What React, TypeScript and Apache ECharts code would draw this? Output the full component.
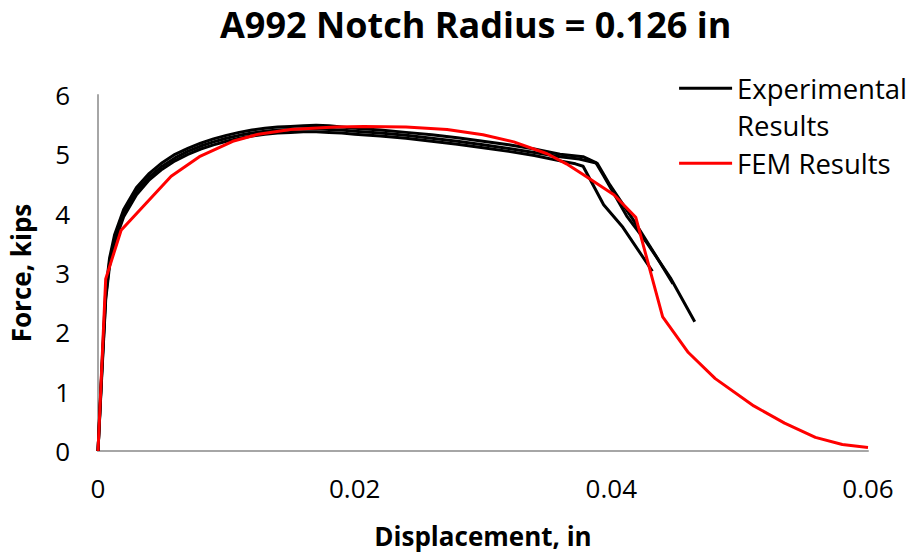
import React, { useEffect, useRef } from "react";
import * as echarts from "echarts";

const TITLE = "A992 Notch Radius = 0.126 in";
const X_NAME = "Displacement, in";
const Y_NAME = "Force, kips";
const EXP_NAME = "Experimental Results";
const FEM_NAME = "FEM Results";

// Experimental test curves [displacement (in), force (kips)]
const exp1: number[][] = [
  [0, 0], [0.0003, 1.4], [0.0006, 2.7], [0.0009, 3.25], [0.0013, 3.65], [0.002, 4.07],
  [0.003, 4.44], [0.004, 4.68], [0.005, 4.86], [0.006, 5.0], [0.007, 5.1], [0.008, 5.19],
  [0.009, 5.26], [0.01, 5.32], [0.011, 5.37], [0.012, 5.41], [0.013, 5.44], [0.014, 5.46],
  [0.015, 5.47], [0.016, 5.48], [0.017, 5.49], [0.018, 5.48], [0.019, 5.46], [0.02, 5.44],
  [0.022, 5.41], [0.024, 5.37], [0.026, 5.33], [0.028, 5.28], [0.03, 5.22], [0.032, 5.16],
  [0.034, 5.09], [0.036, 5.0], [0.0378, 4.96], [0.0388, 4.86], [0.0394, 4.64],
  [0.0412, 3.96], [0.0428, 3.5], [0.0446, 2.92], [0.0465, 2.18],
];
const exp2: number[][] = [
  [0, 0], [0.0003, 1.35], [0.0006, 2.6], [0.0009, 3.18], [0.0013, 3.58], [0.002, 4.01],
  [0.003, 4.38], [0.004, 4.62], [0.005, 4.8], [0.006, 4.94], [0.007, 5.05], [0.008, 5.14],
  [0.009, 5.21], [0.01, 5.27], [0.011, 5.32], [0.012, 5.36], [0.013, 5.39], [0.014, 5.41],
  [0.015, 5.42], [0.016, 5.43], [0.017, 5.43], [0.018, 5.42], [0.019, 5.41], [0.02, 5.39],
  [0.022, 5.36], [0.024, 5.32], [0.026, 5.27], [0.028, 5.22], [0.03, 5.16], [0.032, 5.1],
  [0.034, 5.03], [0.036, 4.96], [0.0375, 4.92], [0.0389, 4.85], [0.0399, 4.48],
  [0.0417, 3.9], [0.0433, 3.35], [0.0448, 2.82],
];
const exp3: number[][] = [
  [0, 0], [0.0003, 1.3], [0.0006, 2.55], [0.0009, 3.12], [0.0013, 3.52], [0.002, 3.95],
  [0.003, 4.32], [0.004, 4.57], [0.005, 4.75], [0.006, 4.89], [0.007, 5.0], [0.008, 5.09],
  [0.009, 5.16], [0.01, 5.22], [0.011, 5.27], [0.012, 5.31], [0.013, 5.34], [0.014, 5.36],
  [0.015, 5.37], [0.016, 5.38], [0.017, 5.38], [0.018, 5.37], [0.019, 5.36], [0.02, 5.34],
  [0.022, 5.31], [0.024, 5.27], [0.026, 5.22], [0.028, 5.17], [0.03, 5.11], [0.032, 5.05],
  [0.034, 4.98], [0.036, 4.89], [0.0372, 4.84], [0.0378, 4.8], [0.0394, 4.15],
  [0.0409, 3.77], [0.0432, 3.03],
];

// FEM simulation curve
const fem: number[][] = [
  [0, 0], [0.0006, 2.9], [0.0018, 3.72], [0.0057, 4.63], [0.0079, 4.96], [0.0105, 5.22],
  [0.0125, 5.34], [0.015, 5.42], [0.0185, 5.46], [0.0207, 5.47], [0.024, 5.46],
  [0.0272, 5.42], [0.03, 5.33], [0.0324, 5.21], [0.035, 5.01], [0.0365, 4.84],
  [0.0378, 4.66], [0.0402, 4.32], [0.0419, 3.94], [0.044, 2.26], [0.046, 1.66],
  [0.0481, 1.22], [0.0511, 0.76], [0.0535, 0.47], [0.0559, 0.23], [0.058, 0.11],
  [0.06, 0.06],
];

const X_TICKS = [0, 0.02, 0.04, 0.06];
const Y_TICKS = [0, 1, 2, 3, 4, 5, 6];

const FONT = "Open Sans";

export default function App() {
  const ref = useRef<HTMLDivElement>(null);
  useEffect(() => {
    if (!ref.current) return;
    const chart = echarts.init(ref.current, undefined, { renderer: "svg" });
    const expSeries = [exp1, exp2, exp3].map((d) => ({
      name: EXP_NAME,
      type: "line",
      data: d,
      showSymbol: false,
      symbol: "none",
      lineStyle: { color: "#000", width: 3 },
      itemStyle: { color: "#000" },
      z: 2,
    }));
    chart.setOption({
      animation: false,
      backgroundColor: "#fff",
      textStyle: { fontFamily: FONT },
      title: {
        text: TITLE,
        left: 220,
        top: 2,
        padding: 0,
        textStyle: { fontFamily: FONT, fontSize: 36, fontWeight: "bold", color: "#000", lineHeight: 44 },
      },
      legend: {
        orient: "vertical",
        right: 3,
        top: 27,
        itemGap: 0,
        itemWidth: 53,
        itemHeight: 3,
        icon: "rect",
        data: [EXP_NAME, FEM_NAME],
        formatter: (n: string) => (n === EXP_NAME ? "\nExperimental\nResults" : n),
        textStyle: { fontFamily: FONT, fontSize: 27.5, color: "#000", lineHeight: 37.5 },
      },
      grid: { left: 97, right: 47, top: 95, bottom: 95, containLabel: false },
      xAxis: {
        type: "value",
        min: X_TICKS[0],
        max: X_TICKS[X_TICKS.length - 1],
        interval: 0.02,
        name: X_NAME,
        nameLocation: "middle",
        nameGap: 72,
        nameTextStyle: { fontFamily: FONT, fontSize: 26, fontWeight: "bold", color: "#000" },
        axisLine: { lineStyle: { color: "#a6a6a6", width: 2 } },
        axisTick: { show: false },
        splitLine: { show: false },
        axisLabel: { fontFamily: FONT, fontSize: 26, color: "#000", margin: 24 },
      },
      yAxis: {
        type: "value",
        min: Y_TICKS[0],
        max: Y_TICKS[Y_TICKS.length - 1],
        interval: 1,
        name: Y_NAME,
        nameLocation: "middle",
        nameRotate: 90,
        nameGap: 64,
        nameTextStyle: { fontFamily: FONT, fontSize: 26, fontWeight: "bold", color: "#000" },
        axisLine: { show: true, lineStyle: { color: "#a6a6a6", width: 2 } },
        axisTick: { show: false },
        splitLine: { show: false },
        axisLabel: { fontFamily: FONT, fontSize: 26, color: "#000", margin: 28 },
      },
      series: [
        ...expSeries,
        {
          name: FEM_NAME,
          type: "line",
          data: fem,
          showSymbol: false,
          symbol: "none",
          lineStyle: { color: "#ff0000", width: 3 },
          itemStyle: { color: "#ff0000" },
          z: 3,
        },
      ],
    });
    return () => chart.dispose();
  }, []);
  return <div ref={ref} style={{ width: 915, height: 554, position: "absolute", left: 0, top: 0 }} />;
}
